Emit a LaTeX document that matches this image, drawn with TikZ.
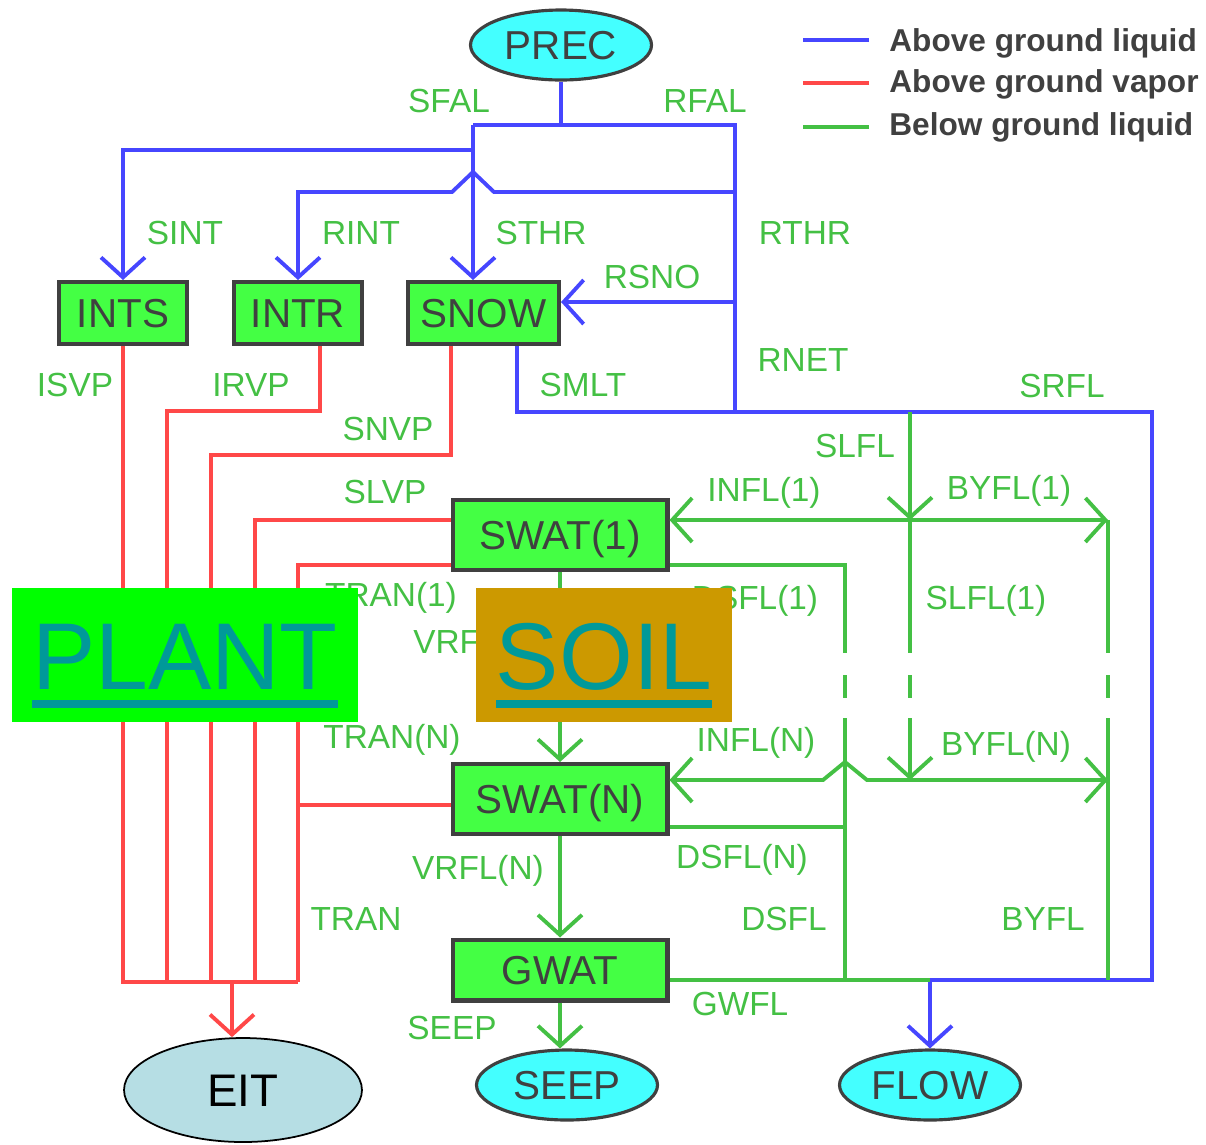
\documentclass[tikz,border=0pt]{standalone}
\usepackage{fontspec}
\setmainfont{Liberation Sans}
\usetikzlibrary{shapes.geometric, arrows.meta, positioning}

\definecolor{liqblue}{RGB}{70,70,255}
\definecolor{vapred}{RGB}{255,72,72}
\definecolor{gndgreen}{RGB}{68,192,68}
\definecolor{poolgreen}{RGB}{68,255,68}
\definecolor{edgegray}{RGB}{64,64,64}
\definecolor{extcyan}{RGB}{68,255,255}
\definecolor{eitblue}{RGB}{182,222,228}
\definecolor{plantgreen}{RGB}{0,255,0}
\definecolor{soilgold}{RGB}{204,153,0}
\definecolor{tagteal}{RGB}{0,153,153}

\newcommand{\bigul}[1]{\setbox0=\hbox{#1}\rlap{\smash{\rule[-0.2em]{\wd0}{0.08em}}}\box0}

\begin{document}
\begin{tikzpicture}[x=0.02cm, y=-0.02cm,
  >={Straight Barb[length=0.4cm,width=0.88cm]},
  pool/.style={draw=edgegray, line width=2.3pt, fill=poolgreen, minimum height=1.24cm, inner sep=0pt, text=edgegray, font=\fontsize{23}{23}\selectfont, text height=16.5pt, text depth=0pt},
  ext/.style={ellipse, draw=edgegray, line width=1.8pt, fill=extcyan, minimum width=3.62cm, minimum height=1.4cm, inner sep=0pt, text=edgegray, font=\fontsize{23}{23}\selectfont, text height=16.5pt, text depth=0pt},
  flab/.style={text=gndgreen, font=\fontsize{19}{19}\selectfont, inner sep=0pt, text height=13.6pt, text depth=0pt},
  leg/.style={anchor=west, text=edgegray, font=\fontsize{18}{18}\selectfont\bfseries, inner sep=0pt, text height=12.9pt, text depth=0pt},
  region/.style={minimum height=2.68cm, inner sep=0pt, text=tagteal, font=\fontsize{54}{54}\selectfont, text height=38.7pt, text depth=0pt},
  liqline/.style={draw=liqblue, line width=2.2pt},
  vapline/.style={draw=vapred, line width=2.2pt},
  gndline/.style={draw=gndgreen, line width=2.2pt}
]
\useasboundingbox (0,0) rectangle (1206,1144);

\node[ext] (prec) at (561,45) {PREC};
\node[pool, minimum width=2.56cm] (ints) at (123,313) {INTS};
\node[pool, minimum width=2.56cm] (intr) at (298,313) {INTR};
\node[pool, minimum width=3.02cm] (snow) at (483.5,313) {SNOW};
\node[pool, minimum width=4.3cm, minimum height=1.4cm] (swat1) at (560,535) {SWAT(1)};
\node[pool, minimum width=4.3cm, minimum height=1.4cm] (swatn) at (560,799) {SWAT(N)};
\node[pool, minimum width=4.3cm, minimum height=1.22cm] (gwat) at (560,970) {GWAT};
\node[ext] (seep) at (567,1085) {SEEP};
\node[ext] (flow) at (930,1085) {FLOW};
\node[ext, draw=black, line width=1pt, fill=eitblue, text=black, minimum width=4.76cm, minimum height=2.08cm, font=\fontsize{26}{26}\selectfont, text height=18.6pt] (eit) at (243,1090) {EIT};

\node[leg] (kliq) at (889,40) {Above ground liquid};
\node[leg] (kvap) at (889,81) {Above ground vapor};
\node[leg] (kgnd) at (889,124) {Below ground liquid};
\draw[liqline] ([xshift=-0.4cm]kliq.west) -- ++(-1.32cm,0);
\draw[vapline] ([xshift=-0.4cm,yshift=-0.04cm]kvap.west) -- ++(-1.32cm,0);
\draw[gndline] ([xshift=-0.4cm,yshift=-0.06cm]kgnd.west) -- ++(-1.32cm,0);

\coordinate (sfj) at (473,125);
\coordinate (rfj) at (735,125);
\coordinate (sij) at (473,150);
\coordinate (rij) at (735,192);
\coordinate (rsj) at (735,302);
\coordinate (rnj) at (735,412);
\coordinate (smj) at (517,412);
\coordinate (srj) at (1152,412);
\coordinate (slj) at (910,412);
\coordinate (j1) at (910,520);
\coordinate (b1) at (1108,520);
\coordinate (jn) at (910,780);
\coordinate (bn) at (1108,780);
\coordinate (d1) at (845,565);
\coordinate (dn) at (845,827);
\coordinate (dj) at (845,980);
\coordinate (gwj) at (930,980);
\coordinate (bj) at (1108,980);
\coordinate (ir) at (320,411);
\coordinate (sv) at (451,455);
\coordinate (tn) at (298,805);
\coordinate (eb) at (232,982);

\draw[liqline] (prec) -- (prec |- sfj);
\draw[liqline] (sfj) -- (rfj) -- (rnj);
\draw[liqline,->] (sfj) -- (sfj |- snow.north);
\draw[liqline,->] (sij) -| (ints.north);
\draw[liqline,->] (rij) -- (494,192) -- (473,172) -- (452,192) -| (intr.north);
\draw[liqline,->] (rsj) -- (snow.east |- rsj);
\draw[liqline,->] (smj |- snow.south) -- (smj) -- (srj) |- (gwj) -- (flow);

\draw[gndline,->] (slj) -- (j1);
\draw[gndline,->] (j1) -- (swat1.east |- j1);
\draw[gndline,->] (j1) -- (b1);
\draw[gndline,->] (jn) -- (867,780) -- (845,762) -- (823,780) -- (swatn.east |- jn);
\draw[gndline,->] (jn) -- (bn);
\draw[gndline] (swat1.east |- d1) -- (d1) -- (845,653);
\draw[gndline] (845,718) -- (dj);
\draw[gndline] (swatn.east |- dn) -- (dn);
\draw[gndline] (j1) -- (910,653);
\draw[gndline,->] (910,718) -- (jn);
\draw[gndline] (b1) -- (1108,653);
\draw[gndline] (1108,718) -- (bj);
\foreach \x in {845,910,1108} \draw[gndline] (\x,675) -- (\x,698);
\draw[gndline] (gwat.east |- gwj) -- (gwj);
\draw[gndline,->] (swat1) -- (swatn);
\draw[gndline,->] (swatn) -- (gwat);
\draw[gndline,->] (gwat) -- (gwat |- seep.north);

\draw[vapline] (ints) -- (ints |- eb) -- (298,982);
\draw[vapline] (ir |- intr.south) -- (ir) -| (167,982);
\draw[vapline] (sv |- snow.south) -- (sv) -| (211,982);
\draw[vapline] (swat1.west |- j1) -| (255,982);
\draw[vapline] (swat1.west |- d1) -| (298,982);
\draw[vapline] (swatn.west |- tn) -- (tn);
\draw[vapline,->] (eb) -- (eb |- eit.north);

\node[flab] (f-sfal) at (449,101) {SFAL};
\node[flab] (f-rfal) at (705,101) {RFAL};
\node[flab] (f-sint) at (185,233) {SINT};
\node[flab] (f-rint) at (361,233) {RINT};
\node[flab] (f-sthr) at (541,233) {STHR};
\node[flab] (f-rthr) at (805,233) {RTHR};
\node[flab] (f-rsno) at (652,277) {RSNO};
\node[flab] (f-isvp) at (75,385) {ISVP};
\node[flab] (f-irvp) at (251,385) {IRVP};
\node[flab] (f-smlt) at (583,385) {SMLT};
\node[flab] (f-rnet) at (803,360) {RNET};
\node[flab] (f-srfl) at (1062,386) {SRFL};
\node[flab] (f-snvp) at (388,429) {SNVP};
\node[flab] (f-slfl) at (855,446) {SLFL};
\node[flab] (f-slvp) at (385,492) {SLVP};
\node[flab] (f-infl1) at (764,490) {INFL(1)};
\node[flab] (f-byfl1) at (1009,488) {BYFL(1)};
\node[flab] (f-tran1) at (391,595) {TRAN(1)};
\node[flab, anchor=west] (f-vrfl1) at (413,642) {VRFL(1)};
\node[flab] (f-dsfl1) at (755,598) {DSFL(1)};
\node[flab] (f-slfl1) at (986,598) {SLFL(1)};
\node[flab] (f-trann) at (392,737) {TRAN(N)};
\node[flab] (f-infln) at (756,740) {INFL(N)};
\node[flab] (f-byfln) at (1006,744) {BYFL(N)};
\node[flab] (f-dsfln) at (742,857) {DSFL(N)};
\node[flab] (f-vrfln) at (478,868) {VRFL(N)};
\node[flab] (f-tran) at (356,919) {TRAN};
\node[flab] (f-dsfl) at (784,919) {DSFL};
\node[flab] (f-byfl) at (1043,919) {BYFL};
\node[flab] (f-gwfl) at (740,1004) {GWFL};
\node[flab] (f-seep) at (452,1028) {SEEP};

\node[region, fill=plantgreen, minimum width=6.92cm] (plant) at (185,655) {\bigul{PLANT}};
\node[region, fill=soilgold, minimum width=5.12cm] (soil) at (604,655) {\bigul{SOIL}};
\end{tikzpicture}
\end{document}
